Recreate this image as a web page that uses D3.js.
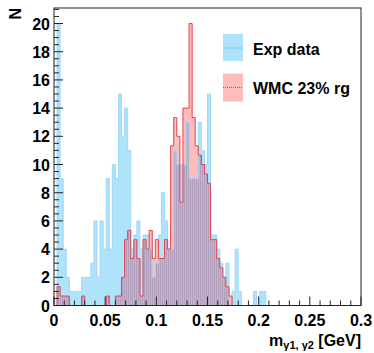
<!DOCTYPE html>
<html><head><meta charset="utf-8">
<script src="https://cdn.jsdelivr.net/npm/d3@7"></script>
<style>body{margin:0;background:#fff}svg text{font-family:"Liberation Sans",Arial,sans-serif;font-weight:bold}</style>
</head><body>
<svg id="c" width="374" height="353"></svg>
<script>
// histogram binning (GeV)
const xMin = 0, xMax = 0.3, nBins = 100;
const expCounts = [0,20,9,4,2,1,1,1,1,2, 2,2,3,6,2,6,4,9,4,10, 9,15,12,14,11,4,5,6,4,5,
  5,4,2,3,5,8,6,4,4,11, 10,10,10,13,9,9,9,13,11,10, 15,5,5,4,3,2,3,0,1,4,
  1,0,0,0,0,1,0,1,1,0, 0,0,0,0,0,0,0,0,0,0, 0,0,0,0,0,0,0,0,0,0, 0,0,0,0,0,0,0,0,0,0];
const wmcValues = [0,1.33,0.67,0.67,0.67,0,0,0,0,0.67, 0,0,0,0,0,0,0,0.67,0,0,
  0.67,0.67,2,4.67,5.33,3.33,4.67,3.33,0.67,4.67, 4,5.33,3.33,4.67,3.33,3.33,4.67,4,11.33,13.33,
  12,7.33,14,14,20,13.33,11.33,10.67,10,9.33, 8.67,4.67,4.67,3.33,2.67,2,1.33,0.67,0,0,
  0,0,0,0,0,0,0,0,0,0, 0,0,0,0,0,0,0,0,0,0, 0,0,0,0,0,0,0,0,0,0, 0,0,0,0,0,0,0,0,0,0];
const xTicks = [0,0.05,0.1,0.15,0.2,0.25,0.3];
const yTicks = [0,2,4,6,8,10,12,14,16,18,20];
const legendLabels = ["Exp data","WMC 23% rg"];
const xTitleMain = "m", xTitleSub = "γ1, γ2", xTitleUnit = " [GeV]";
const yTitle = "N";

const svg = d3.select("#c");
const L = 54, R = 361, T = 8, B = 305.5;
const x = d3.scaleLinear().domain([xMin, xMax]).range([L, R]);
const y = d3.scaleLinear().domain([0, 21.1]).range([B, T]);
const bw = (xMax - xMin) / nBins;

const defs = svg.append("defs");
const pat = defs.append("pattern").attr("id","stripe").attr("patternUnits","userSpaceOnUse")
  .attr("width",2).attr("height",4);
pat.append("rect").attr("width",2).attr("height",4).attr("fill","#c9b3cc");
pat.append("rect").attr("width",1).attr("height",4).attr("fill","#b29fbb");

function stepPts(vals){
  const pts = [[xMin,0]];
  vals.forEach((v,i)=>{ pts.push([xMin+i*bw, v]); pts.push([xMin+(i+1)*bw, v]); });
  pts.push([xMax,0]);
  return pts;
}
const area = d3.area().x(d=>x(d[0])).y0(y(0)).y1(d=>y(d[1]));
const line = d3.line().x(d=>x(d[0])).y(d=>y(d[1]));
const overlap = expCounts.map((v,i)=>Math.min(v, wmcValues[i]));

const g = svg.append("g");
g.append("path").attr("d", area(stepPts(expCounts))).attr("fill","#afe2fb");
g.append("path").attr("d", area(stepPts(wmcValues))).attr("fill","#ffbcbc");
g.append("path").attr("d", area(stepPts(overlap))).attr("fill","url(#stripe)");
g.append("path").attr("d", line(stepPts(expCounts))).attr("fill","none").attr("stroke","#9fd8f6").attr("stroke-width",1);
g.append("path").attr("d", line(stepPts(wmcValues))).attr("fill","none").attr("stroke","#e8414b").attr("stroke-width",1);

// frame
svg.append("rect").attr("x",L).attr("y",T).attr("width",R-L).attr("height",B-T)
  .attr("fill","none").attr("stroke","#222").attr("stroke-width",1);

// y ticks (inside)
const yMinor = d3.range(0, 21.01, 0.5);
svg.append("g").selectAll("line").data(yMinor).join("line")
  .attr("x1",L).attr("x2",d=> (Math.abs(d%2)<1e-9)? L+9 : L+5)
  .attr("y1",d=>y(d)).attr("y2",d=>y(d)).attr("stroke","#222").attr("stroke-width",1);
svg.append("g").selectAll("text").data(yTicks).join("text")
  .attr("x",L-4).attr("y",d=>y(d)+6).attr("text-anchor","end").attr("font-size",16).text(d=>d);

// x ticks (inside)
const xMinor = d3.range(0, 0.3001, 0.01);
svg.append("g").selectAll("line").data(xMinor).join("line")
  .attr("x1",d=>x(d)).attr("x2",d=>x(d)).attr("y1",B)
  .attr("y2",(d,i)=> (i%5===0)? B-9 : B-5).attr("stroke","#222").attr("stroke-width",1);
svg.append("g").selectAll("text").data(xTicks).join("text")
  .attr("x",d=>x(d)).attr("y",325.5).attr("text-anchor","middle").attr("font-size",16)
  .text(d=>d3.format("")(d));

// axis titles
const xt = svg.append("text").attr("x",R).attr("y",346).attr("text-anchor","end").attr("font-size",16);
xt.append("tspan").text(xTitleMain);
xt.append("tspan").attr("font-size",11).attr("dy",3).text(xTitleSub);
xt.append("tspan").attr("dy",-3).text(xTitleUnit);
svg.append("text").attr("transform","translate(21,8) rotate(-90)").attr("text-anchor","end")
  .attr("font-size",16).text(yTitle);

// legend
const lg = svg.append("g");
lg.append("rect").attr("x",223).attr("y",34).attr("width",20).attr("height",27).attr("fill","#afe2fb");
lg.append("line").attr("x1",223).attr("x2",243).attr("y1",48).attr("y2",48).attr("stroke","#7fc6ee").attr("stroke-width",1);
lg.append("rect").attr("x",223).attr("y",73.5).attr("width",20).attr("height",28).attr("fill","#ffbcbc");
lg.append("line").attr("x1",223).attr("x2",243).attr("y1",87.5).attr("y2",87.5).attr("stroke","#e8414b").attr("stroke-width",1).attr("stroke-dasharray","1,1");
lg.selectAll("text").data(legendLabels).join("text")
  .attr("x",253).attr("y",(d,i)=>i===0?55:94).attr("font-size",16).text(d=>d);
</script>
</body></html>
